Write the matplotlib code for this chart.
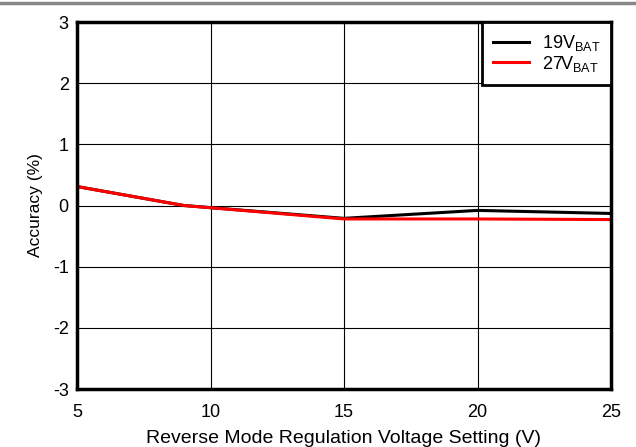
import matplotlib.pyplot as plt
from matplotlib.lines import Line2D

plt.rcParams['font.family'] = ['Liberation Sans', 'DejaVu Sans']
plt.rcParams['axes.unicode_minus'] = False

# reverse mode regulation voltage setting (V)
v_set = [5, 9, 15, 20, 25]
acc_19v = [0.31, 0.0, -0.21, -0.08, -0.13]
acc_27v = [0.31, 0.0, -0.22, -0.22, -0.23]
labels = ['19V$_{\\mathregular{BAT}}$', '27V$_{\\mathregular{BAT}}$']

fig = plt.figure(figsize=(6.36, 4.47), dpi=100)
ax = fig.add_axes([77 / 636, 1 - 389 / 447, 534 / 636, 367 / 447])

ax.plot(v_set, acc_19v, color='black', lw=2.2, label=labels[0])
ax.plot(v_set, acc_27v, color='red', lw=2.2, label=labels[1])

ax.set_xlim(5, 25)
ax.set_ylim(-3, 3)
ax.set_xticks([5, 10, 15, 20, 25])
ax.set_yticks([-3, -2, -1, 0, 1, 2, 3])
ax.grid(True, color='black', lw=0.8)
ax.tick_params(length=0, labelsize=13)
ax.tick_params(axis='x', pad=11)
ax.tick_params(axis='y', pad=6)
for s in ax.spines.values():
    s.set_linewidth(2.5)

ax.set_xlabel('Reverse Mode Regulation Voltage Setting (V)', fontsize=14, labelpad=6)
ax.set_ylabel('Accuracy (%)', fontsize=12.5, labelpad=7)

leg = ax.legend(loc='upper right', fontsize=13, frameon=True, fancybox=False,
                borderaxespad=0, handlelength=2.0, labelspacing=0.05, borderpad=0.6,
                handletextpad=0.7)
leg.get_frame().set_edgecolor('black')
leg.get_frame().set_linewidth(2)
leg.get_frame().set_alpha(1)

# gray rule across top of the figure
fig.add_artist(Line2D([0, 1], [1 - 3 / 447, 1 - 3 / 447], color='#888888', lw=2.5))

fig.savefig('out.png', dpi=100)
